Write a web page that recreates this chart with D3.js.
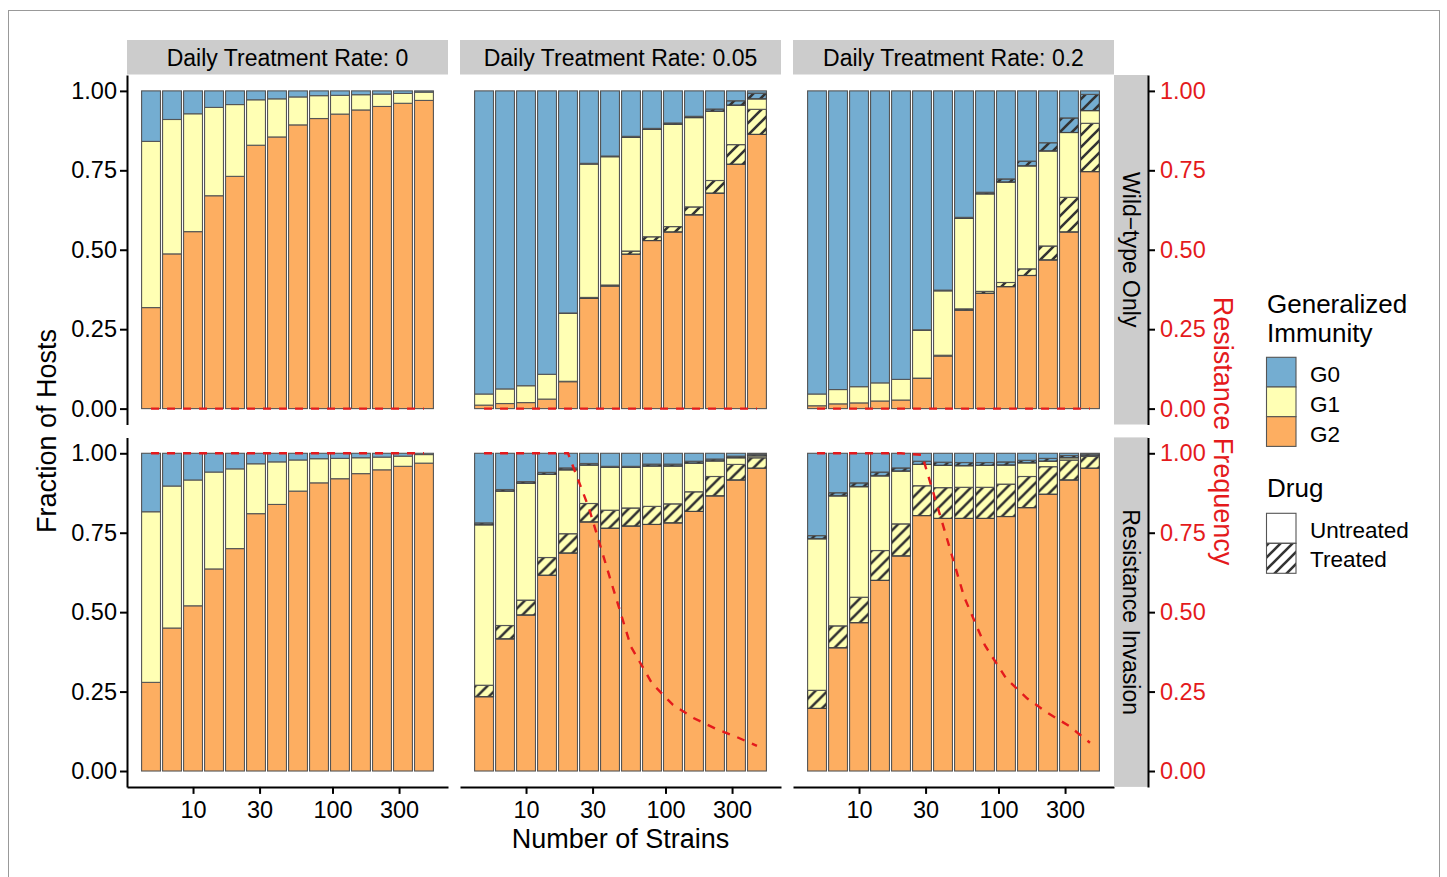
<!DOCTYPE html>
<html>
<head>
<meta charset="utf-8">
<script src="https://cdn.jsdelivr.net/npm/d3@7"></script>
<style>
  body { margin: 0; background: #fff; }
  svg { font-family: "Liberation Sans", Arial, Helvetica, sans-serif; }
</style>
</head>
<body>
<script>
// ---- data ----
const strains = [5, 7.07, 10, 14.14, 20, 28.28, 40, 56.57, 80, 113.1, 160, 226.3, 320, 452.5];
const rates = ["0", "0.05", "0.2"];
const scenarios = ["Wild\u2212type Only", "Resistance Invasion"];
const fracTicks = [0, 0.25, 0.5, 0.75, 1];
const strainTicks = [10, 30, 100, 300];
const noTreat = [0, 0, 0, 0, 0, 0, 0, 0, 0, 0, 0, 0, 0, 0];

// Wild-type only
const wt0_g2  = [0.318,0.487,0.557,0.670,0.731,0.829,0.855,0.893,0.913,0.927,0.940,0.951,0.961,0.970];
const wt0_g1u = [0.523,0.423,0.371,0.278,0.226,0.143,0.120,0.088,0.072,0.059,0.048,0.039,0.031,0.026];
const wt0_g0u = [0.159,0.090,0.072,0.052,0.043,0.028,0.025,0.019,0.015,0.014,0.012,0.010,0.008,0.004];
const wt0_res = [0,0,0,0,0,0,0,0,0,0,0,0,0,0];

const wt05_g2  = [0.011,0.016,0.019,0.030,0.085,0.347,0.386,0.486,0.529,0.556,0.610,0.678,0.769,0.863];
const wt05_g1t = [0,0,0,0,0.001,0.003,0.003,0.010,0.012,0.017,0.025,0.040,0.062,0.079];
const wt05_g1u = [0.035,0.046,0.053,0.078,0.214,0.420,0.404,0.358,0.338,0.322,0.281,0.218,0.124,0.033];
const wt05_g0t = [0,0,0,0,0.001,0.002,0.002,0.003,0.003,0.004,0.004,0.007,0.014,0.018];
const wt05_g0u = [0.954,0.938,0.928,0.892,0.699,0.228,0.205,0.143,0.118,0.101,0.080,0.057,0.031,0.007];
const wt05_res = [0,0,0,0,0,0,0,0,0,0,0,0,0,0];

const wt2_g2  = [0.009,0.015,0.018,0.024,0.027,0.095,0.166,0.310,0.363,0.384,0.419,0.468,0.556,0.746];
const wt2_g1t = [0,0,0,0,0,0.001,0.002,0.004,0.006,0.013,0.021,0.044,0.109,0.152];
const wt2_g1u = [0.037,0.045,0.051,0.057,0.065,0.151,0.203,0.285,0.307,0.316,0.324,0.299,0.204,0.040];
const wt2_g0t = [0,0,0,0,0,0.001,0.002,0.003,0.005,0.010,0.015,0.026,0.046,0.051];
const wt2_g0u = [0.954,0.940,0.931,0.919,0.908,0.752,0.627,0.398,0.319,0.277,0.221,0.163,0.085,0.011];
const wt2_res = [0,0,0,0,0,0,0,0,0,0,0,0,0,0];

// Resistance invasion
const ri0_g2  = [0.279,0.450,0.520,0.636,0.700,0.810,0.839,0.881,0.907,0.920,0.936,0.948,0.959,0.969];
const ri0_g1u = [0.537,0.447,0.396,0.305,0.251,0.157,0.134,0.098,0.076,0.064,0.050,0.040,0.032,0.027];
const ri0_g0u = [0.184,0.103,0.084,0.059,0.049,0.033,0.027,0.021,0.017,0.016,0.014,0.012,0.009,0.004];
const ri0_res = [1,1,1,1,1,1,1,1,1,1,1,1,1,1];

const ri05_g2  = [0.234,0.416,0.491,0.616,0.686,0.784,0.764,0.771,0.776,0.781,0.817,0.866,0.916,0.953];
const ri05_g1t = [0.036,0.042,0.047,0.056,0.061,0.058,0.057,0.057,0.057,0.060,0.062,0.061,0.049,0.033];
const ri05_g1u = [0.505,0.423,0.368,0.262,0.201,0.121,0.135,0.128,0.127,0.119,0.090,0.049,0.021,0.006];
const ri05_g0t = [0.006,0.005,0.005,0.006,0.006,0.005,0.003,0.003,0.006,0.006,0.006,0.006,0.005,0.005];
const ri05_g0u = [0.219,0.114,0.089,0.060,0.046,0.032,0.041,0.041,0.034,0.034,0.025,0.018,0.009,0.003];
const ri05_res = [1,1,1,1,1,0.827,0.607,0.391,0.276,0.208,0.166,0.134,0.108,0.079];

const ri2_g2  = [0.197,0.388,0.467,0.600,0.677,0.804,0.795,0.795,0.795,0.801,0.829,0.871,0.916,0.953];
const ri2_g1t = [0.057,0.069,0.080,0.094,0.101,0.094,0.097,0.098,0.098,0.102,0.098,0.087,0.063,0.037];
const ri2_g1u = [0.477,0.409,0.348,0.235,0.166,0.067,0.070,0.068,0.069,0.060,0.043,0.017,0.007,0.002];
const ri2_g0t = [0.010,0.010,0.012,0.012,0.010,0.010,0.010,0.010,0.009,0.010,0.008,0.009,0.007,0.006];
const ri2_g0u = [0.259,0.124,0.093,0.059,0.046,0.025,0.028,0.029,0.029,0.027,0.022,0.016,0.007,0.002];
const ri2_res = [1,1,1,1,1,0.995,0.774,0.549,0.395,0.292,0.229,0.182,0.142,0.089];

const panels = [
  {row: 0, col: 0, g2: wt0_g2,  g1t: noTreat,  g1u: wt0_g1u,  g0t: noTreat,  g0u: wt0_g0u,  res: wt0_res},
  {row: 0, col: 1, g2: wt05_g2, g1t: wt05_g1t, g1u: wt05_g1u, g0t: wt05_g0t, g0u: wt05_g0u, res: wt05_res},
  {row: 0, col: 2, g2: wt2_g2,  g1t: wt2_g1t,  g1u: wt2_g1u,  g0t: wt2_g0t,  g0u: wt2_g0u,  res: wt2_res},
  {row: 1, col: 0, g2: ri0_g2,  g1t: noTreat,  g1u: ri0_g1u,  g0t: noTreat,  g0u: ri0_g0u,  res: ri0_res},
  {row: 1, col: 1, g2: ri05_g2, g1t: ri05_g1t, g1u: ri05_g1u, g0t: ri05_g0t, g0u: ri05_g0u, res: ri05_res},
  {row: 1, col: 2, g2: ri2_g2,  g1t: ri2_g1t,  g1u: ri2_g1u,  g0t: ri2_g0t,  g0u: ri2_g0u,  res: ri2_res}
];

// ---- layout ----
const width = 1447, height = 877;
const W = 321, H = 349.5;
const colX = [127, 460, 793];
const rowY = [75, 437.4];
const red = "#E41A1C";
const fills = {g2: "#FDAE61", g1t: "#FFFFB4", g1u: "#FFFFB4", g0t: "#74ADD1", g0u: "#74ADD1"};
const keys = ["g2", "g1t", "g1u", "g0t", "g0u"];
const treated = {g1t: true, g0t: true};
const tickFont = 23.5;

const svg = d3.select("body").append("svg").attr("width", width).attr("height", height);
svg.append("rect").attr("x", 8.5).attr("y", 10.5).attr("width", 1431).attr("height", 900)
  .attr("fill", "none").attr("stroke", "#999");

const defs = svg.append("defs");
const pat = defs.append("pattern").attr("id", "hatch")
  .attr("patternUnits", "userSpaceOnUse").attr("width", 12).attr("height", 12);
pat.append("path").attr("d", "M-3,3L3,-3M0,12L12,0M9,15L15,9")
  .attr("stroke", "#333").attr("stroke-width", 2.6);

// x: log scale, bar width 0.9 of log spacing, 5% expansion
const barHalf = 0.45 * Math.log10(strains[2] / strains[0]) / 2;
const lo = Math.log10(strains[0]) - barHalf;
const hi = Math.log10(strains[strains.length - 1]) + barHalf;
const pad = 0.05 * (hi - lo);
const x = d3.scaleLog().domain([Math.pow(10, lo - pad), Math.pow(10, hi + pad)]).range([0, W]);
const y = d3.scaleLinear().domain([-0.05, 1.05]).range([H, 0]);
const bl = s => x(s / Math.pow(10, barHalf));
const br = s => x(s * Math.pow(10, barHalf));

const stack = d3.stack().keys(keys);

panels.forEach(p => {
  const g = svg.append("g").attr("transform", `translate(${colX[p.col]},${rowY[p.row]})`);
  const rows = strains.map((s, i) => ({s: s, g2: p.g2[i], g1t: p.g1t[i], g1u: p.g1u[i], g0t: p.g0t[i], g0u: p.g0u[i]}));
  const series = stack(rows);

  series.forEach(ser => {
    const seg = g.append("g").selectAll("g").data(ser).enter().append("g");
    seg.append("rect")
      .attr("x", d => bl(d.data.s))
      .attr("width", d => br(d.data.s) - bl(d.data.s))
      .attr("y", d => y(d[1]))
      .attr("height", d => y(d[0]) - y(d[1]))
      .attr("fill", fills[ser.key])
      .attr("stroke", "#555")
      .attr("stroke-width", 1.1);
    if (treated[ser.key]) {
      seg.filter(d => d[1] - d[0] > 0).append("rect")
        .attr("x", d => bl(d.data.s))
        .attr("width", d => br(d.data.s) - bl(d.data.s))
        .attr("y", d => y(d[1]))
        .attr("height", d => y(d[0]) - y(d[1]))
        .attr("fill", "url(#hatch)")
        .attr("stroke", "#444")
        .attr("stroke-width", 1.1);
    }
  });

  const line = d3.line().x(d => x(d[0])).y(d => y(d[1]));
  g.append("path")
    .datum(strains.map((s, i) => [s, p.res[i]]))
    .attr("d", line)
    .attr("fill", "none")
    .attr("stroke", red)
    .attr("stroke-width", 2.4)
    .attr("stroke-dasharray", "8,8");

  // x axis on bottom row
  if (p.row === 1) {
    const ax = g.append("g").attr("transform", `translate(0,${H})`)
      .call(d3.axisBottom(x).tickValues(strainTicks).tickFormat(d3.format("d"))
        .tickSize(7).tickSizeOuter(0).tickPadding(7));
    ax.select(".domain").attr("stroke-width", 2);
    ax.selectAll(".tick line").attr("stroke-width", 2);
    ax.selectAll("text").attr("font-size", tickFont).attr("fill", "#000")
      .attr("font-family", "Liberation Sans, Arial, sans-serif");
  }
});

// strips
rates.forEach((r, c) => {
  svg.append("rect").attr("x", colX[c]).attr("y", 40).attr("width", W).attr("height", 34.5).attr("fill", "#CCCCCC");
  svg.append("text").attr("x", colX[c] + W / 2).attr("y", 65.5).attr("text-anchor", "middle")
    .attr("font-size", 23).text("Daily Treatment Rate: " + r);
});
scenarios.forEach((s, r) => {
  svg.append("rect").attr("x", colX[2] + W).attr("y", rowY[r]).attr("width", 34).attr("height", H).attr("fill", "#CCCCCC");
  svg.append("text").attr("transform", `translate(${colX[2] + W + 9},${rowY[r] + H / 2}) rotate(90)`)
    .attr("text-anchor", "middle").attr("font-size", 23).text(s);
});

// y axes (left and right) per row
rowY.forEach(ry => {
  const la = svg.append("g").attr("transform", `translate(${colX[0]},${ry})`)
    .call(d3.axisLeft(y).tickValues(fracTicks).tickFormat(d3.format(".2f"))
      .tickSize(7).tickSizeOuter(0).tickPadding(3));
  la.select(".domain").attr("stroke-width", 2);
  la.selectAll(".tick line").attr("stroke-width", 2);
  la.selectAll("text").attr("font-size", tickFont).attr("fill", "#000")
    .attr("font-family", "Liberation Sans, Arial, sans-serif");

  const ra = svg.append("g").attr("transform", `translate(${colX[2] + W + 34},${ry})`)
    .call(d3.axisRight(y).tickValues(fracTicks).tickFormat(d3.format(".2f"))
      .tickSize(7).tickSizeOuter(0).tickPadding(5));
  ra.select(".domain").attr("stroke-width", 2);
  ra.selectAll(".tick line").attr("stroke-width", 2);
  ra.selectAll("text").attr("font-size", tickFont).attr("fill", red)
    .attr("font-family", "Liberation Sans, Arial, sans-serif");
});

// axis titles
svg.append("text").attr("transform", "translate(56,431) rotate(-90)").attr("text-anchor", "middle")
  .attr("font-size", 27).text("Fraction of Hosts");
svg.append("text").attr("x", colX[1] + W / 2).attr("y", 848).attr("text-anchor", "middle")
  .attr("font-size", 27).text("Number of Strains");
svg.append("text").attr("transform", "translate(1214,431) rotate(90)").attr("text-anchor", "middle")
  .attr("font-size", 27).attr("fill", red).text("Resistance Frequency");

// legend
const lg = svg.append("g");
lg.append("text").attr("x", 1267).attr("y", 313).attr("font-size", 26).text("Generalized");
lg.append("text").attr("x", 1267).attr("y", 342).attr("font-size", 26).text("Immunity");
const immKeys = [["G0", "#74ADD1"], ["G1", "#FFFFB4"], ["G2", "#FDAE61"]];
immKeys.forEach((k, i) => {
  lg.append("rect").attr("x", 1266.5).attr("y", 357.3 + i * 29.7).attr("width", 29.5).attr("height", 29.7)
    .attr("fill", k[1]).attr("stroke", "#555").attr("stroke-width", 1.1);
  lg.append("text").attr("x", 1310).attr("y", 382 + i * 30).attr("font-size", 22.5).text(k[0]);
});
lg.append("text").attr("x", 1267).attr("y", 497).attr("font-size", 26).text("Drug");
const drugKeys = ["Untreated", "Treated"];
drugKeys.forEach((k, i) => {
  lg.append("rect").attr("x", 1266.5).attr("y", 513.3 + i * 30).attr("width", 29.5).attr("height", 30)
    .attr("fill", i ? "url(#hatch)" : "#fff").attr("stroke", "#555").attr("stroke-width", 1.1);
  lg.append("text").attr("x", 1310).attr("y", 537.5 + i * 29.5).attr("font-size", 22.5).text(k);
});
</script>
</body>
</html>
